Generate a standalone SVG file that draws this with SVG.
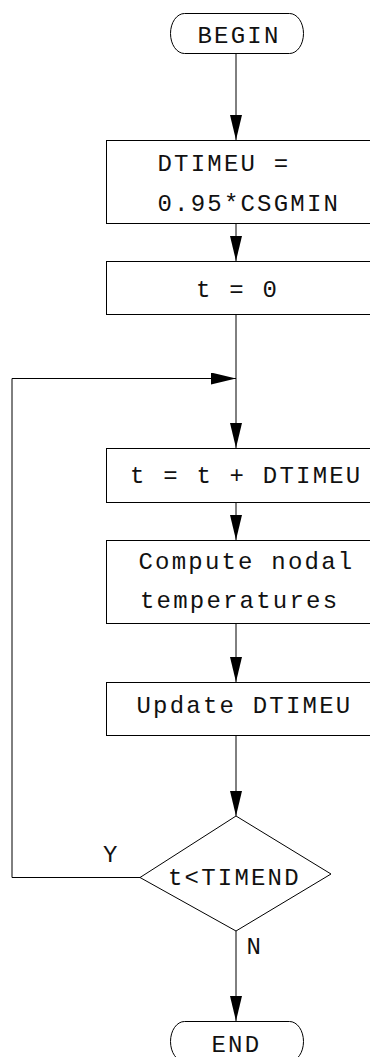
<svg xmlns="http://www.w3.org/2000/svg" width="370" height="1057" viewBox="0 0 370 1057">
<style>
.shape{fill:#fff;stroke:#000;stroke-width:1}
.lbl{font-family:"Liberation Mono","DejaVu Sans Mono",monospace;font-size:24px;letter-spacing:2.2px;fill:#111}
.conn{fill:none;stroke:#000;stroke-width:1}
</style>
<defs>
<marker id="arr" markerUnits="userSpaceOnUse" markerWidth="26" markerHeight="14" refX="25" refY="6" orient="auto">
<path d="M0,0 L25,6 L0,12 z" fill="#000"/>
</marker>
</defs>
<rect width="370" height="1057" fill="#fff"/>
<g id="connectors">
<path class="conn" d="M236,53.5 V140" marker-end="url(#arr)"/>
<path class="conn" d="M236,223.5 V261" marker-end="url(#arr)"/>
<path class="conn" d="M236,314.5 V448" marker-end="url(#arr)"/>
<path class="conn" d="M140,877.5 H12 V378.5 H236" marker-end="url(#arr)"/>
<path class="conn" d="M236,502.5 V540" marker-end="url(#arr)"/>
<path class="conn" d="M236,623.5 V682" marker-end="url(#arr)"/>
<path class="conn" d="M236,735.5 V816" marker-end="url(#arr)"/>
<path class="conn" d="M236,931 V1021" marker-end="url(#arr)"/>
<text class="lbl" x="103" y="862">Y</text>
<text class="lbl" x="246.5" y="954">N</text>
</g>
<g id="begin">
<rect class="shape" x="170.5" y="13.5" width="133" height="40" rx="14" ry="20"/>
<text class="lbl" x="197.5" y="43">BEGIN</text>
</g>
<g id="init-dtimeu">
<rect class="shape" x="106.5" y="140.5" width="280" height="83"/>
<text class="lbl" x="157.5" y="171">DTIMEU =</text>
<text class="lbl" x="157.5" y="211">0.95*CSGMIN</text>
</g>
<g id="init-t">
<rect class="shape" x="106.5" y="261.5" width="280" height="53"/>
<text class="lbl" x="196" y="297">t = 0</text>
</g>
<g id="step-t">
<rect class="shape" x="106.5" y="448.5" width="280" height="54"/>
<text class="lbl" x="130" y="483">t = t + DTIMEU</text>
</g>
<g id="compute">
<rect class="shape" x="106.5" y="540.5" width="280" height="83"/>
<text class="lbl" x="138.5" y="569">Compute nodal</text>
<text class="lbl" x="140" y="608">temperatures</text>
</g>
<g id="update">
<rect class="shape" x="106.5" y="682.5" width="280" height="53"/>
<text class="lbl" x="136.5" y="713">Update DTIMEU</text>
</g>
<g id="decision">
<polygon class="shape" points="236,816 331,874 236,931 140,877.5"/>
<text class="lbl" x="168" y="885">t&lt;TIMEND</text>
</g>
<g id="end">
<rect class="shape" x="170.5" y="1021.5" width="133" height="40" rx="14" ry="20"/>
<text class="lbl" x="211.5" y="1052">END</text>
</g>
</svg>
